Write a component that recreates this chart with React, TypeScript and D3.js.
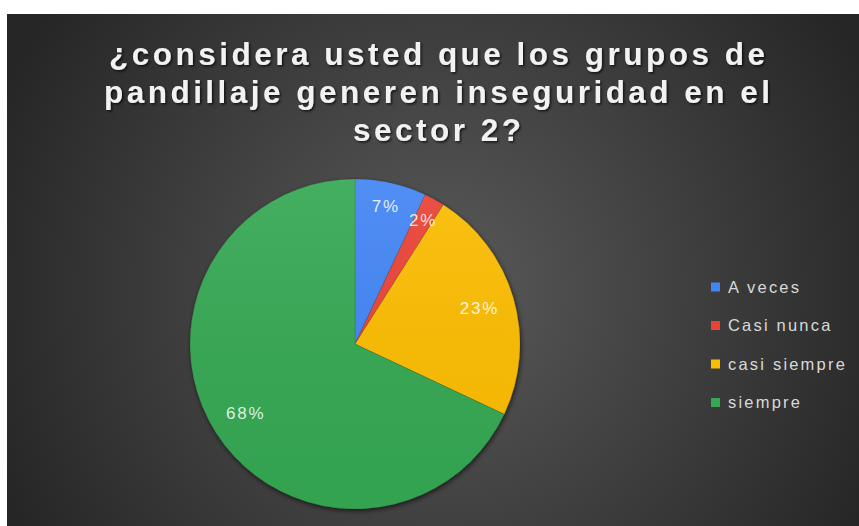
import React from "react";
import * as d3 from "d3";

const categories = ["A veces", "Casi nunca", "casi siempre", "siempre"];
const values = [7, 2, 23, 68];
const colors = ["#4285f4", "#ea4335", "#fbbc04", "#34a853"];
const titleLines = [
  "¿considera usted que los grupos de",
  "pandillaje generen inseguridad en el",
  "sector 2?",
];

const W = 859;
const H = 526;

export default function App() {
  const cx = 355;
  const cy = 344;
  const r = 165;
  const total = d3.sum(values);
  const pie = d3
    .pie<number>()
    .sort(null)
    .value((d) => d)(values);
  const arc = d3.arc<d3.PieArcDatum<number>>().innerRadius(0).outerRadius(r);

  const titleY = d3.scaleLinear().domain([0, 1]).range([65, 103]);
  const titleWidths = [656, 666, 168];
  const legendY = d3.scaleLinear().domain([0, 1]).range([287, 325.5]);

  return (
    <svg
      width={W}
      height={H}
      style={{ position: "absolute", left: 0, top: 0 }}
      fontFamily="'Liberation Sans', Arial, sans-serif"
    >
      <defs>
        <radialGradient id="bg" cx="440" cy="290" r="480" gradientUnits="userSpaceOnUse">
          <stop offset="0" stopColor="#5a5a5a" />
          <stop offset="1" stopColor="#262626" />
        </radialGradient>
        <linearGradient id="gg" x1="0" y1="0" x2="0" y2="1">
          <stop offset="0" stopColor="#ffffff" stopOpacity={0.08} />
          <stop offset="1" stopColor="#000000" stopOpacity={0.03} />
        </linearGradient>
        <filter id="ts" x="-5%" y="-20%" width="110%" height="140%">
          <feDropShadow dx="1.5" dy="1.5" stdDeviation="1" floodColor="#000" floodOpacity="0.7" />
        </filter>
        <filter id="ps" x="-10%" y="-10%" width="120%" height="120%">
          <feDropShadow dx="1" dy="2" stdDeviation="2.5" floodColor="#000" floodOpacity="0.6" />
        </filter>
      </defs>
      <rect x={0} y={0} width={W} height={H} fill="#ffffff" />
      <rect x={7} y={14} width={W - 7} height={H - 14} fill="url(#bg)" />

      {titleLines.map((t, i) => (
        <text
          key={i}
          x={437}
          y={titleY(i)}
          textAnchor="middle"
          fontSize={31.5}
          fontWeight="bold"
          fill="#f2f2f2"
          textLength={titleWidths[i]}
          lengthAdjust="spacing"
          filter="url(#ts)"
        >
          {t}
        </text>
      ))}

      <g transform={`translate(${cx},${cy})`}>
        <g filter="url(#ps)">
          {pie.map((p, i) => (
            <path key={i} d={arc(p) || ""} fill={colors[i]} stroke="#2a2a2a" strokeOpacity={0.25} strokeWidth={0.6} />
          ))}
        </g>
        <circle r={r} fill="url(#gg)" />
        {pie.map((p, i) => {
          const frac = values[i] / total;
          const lr = frac < 0.1 ? r * 0.855 : r * 0.785;
          const a = (p.startAngle + p.endAngle) / 2;
          const x = lr * Math.sin(a);
          const y = -lr * Math.cos(a);
          return (
            <text
              key={i}
              x={x}
              y={y}
              dy="0.35em"
              textAnchor="middle"
              fontSize={17}
              letterSpacing={1.8}
              fill="#ffffff"
              fillOpacity={0.85}
            >
              {`${Math.round(frac * 100)}%`}
            </text>
          );
        })}
      </g>

      {categories.map((c, i) => (
        <g key={c} transform={`translate(711,${legendY(i)})`}>
          <rect x={0} y={-4.5} width={9} height={9} fill={colors[i]} />
          <text x={17} y={0} dy="0.35em" fontSize={16.5} letterSpacing={2.2} fill="#d9d9d9">
            {c}
          </text>
        </g>
      ))}
    </svg>
  );
}
